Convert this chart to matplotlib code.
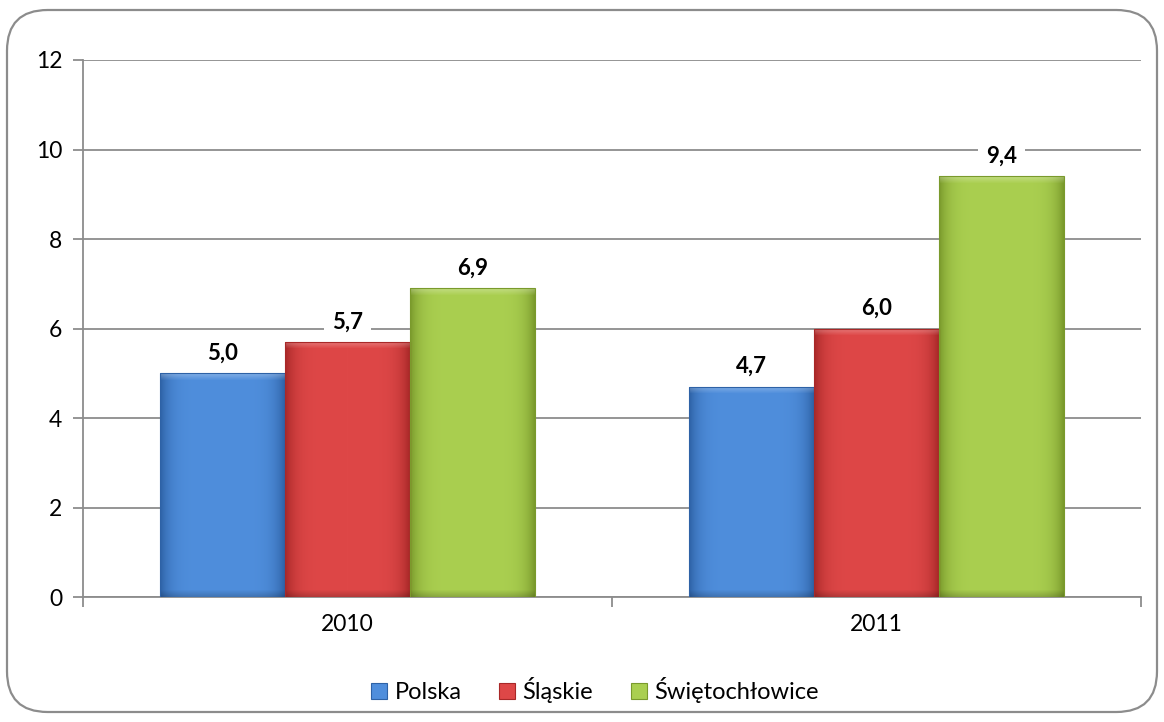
import numpy as np
import matplotlib.pyplot as plt
from matplotlib.patches import FancyBboxPatch, Rectangle
from matplotlib.colors import to_rgb

plt.rcParams['font.family'] = ['Lato', 'DejaVu Sans']

years = ['2010', '2011']
series = ['Polska', 'Śląskie', 'Świętochłowice']
values = {
    'Polska': [5.0, 4.7],
    'Śląskie': [5.7, 6.0],
    'Świętochłowice': [6.9, 9.4],
}
colors = {
    'Polska': ('#4F8EDC', '#2E62A6'),
    'Śląskie': ('#DE4747', '#A82828'),
    'Świętochłowice': ('#AACF50', '#7A9A2C'),
}


def shade(ax, patch, light, dark):
    # gradient fill: darker sides, soft light bevel on top, darker bottom
    x0, y0 = patch.get_x(), patch.get_y()
    w, h = patch.get_width(), patch.get_height()
    nrow = max(int(h * 45), 10)
    t = np.linspace(-1, 1, 125)
    f = np.clip(np.abs(t) ** 6, 0, 1)
    c1, c2 = np.array(to_rgb(light)), np.array(to_rgb(dark))
    row = c1 * (1 - f[:, None]) + c2 * f[:, None]
    img = np.repeat(row[None, :, :], nrow, axis=0)
    ramp = np.linspace(0, 0.28, 8)[:, None, None]
    img[-8:] = img[-8:] + (1 - img[-8:]) * ramp
    dim = np.linspace(0.82, 1.0, 8)[:, None, None]
    img[:8] = img[:8] * dim
    im = ax.imshow(img, extent=(x0, x0 + w, y0, y0 + h), aspect='auto',
                   origin='lower', zorder=3, interpolation='bilinear')
    im.set_clip_path(patch)
    patch.set_facecolor('none')
    patch.set_edgecolor(dark)
    patch.set_linewidth(0.8)
    patch.set_zorder(4)


fig = plt.figure(figsize=(11.64, 7.22), dpi=100)
ax = fig.add_axes([0.0713, 0.1731, 0.9089, 0.7438])

x = np.arange(len(years))
width = 0.236
handles = []
for i, s in enumerate(series):
    light, dark = colors[s]
    bars = ax.bar(x + (i - 1) * width, values[s], width, color=light,
                  zorder=3, label=s)
    for p in bars:
        shade(ax, p, light, dark)
    for xi, v in zip(x + (i - 1) * width, values[s]):
        ax.annotate(f'{v:.1f}'.replace('.', ','), (xi, v), xytext=(0, 7),
                    textcoords='offset points', ha='center', va='bottom',
                    fontsize=16, fontweight='bold', zorder=5,
                    bbox=dict(boxstyle='square,pad=0.35', fc='white', ec='none'))
    handles.append(Rectangle((0, 0), 1, 1, fc=light, ec=dark, lw=0.8))

ax.set_xlim(-0.5, 1.5)
ax.set_ylim(0, 12)
ax.set_yticks(range(0, 13, 2))
ax.set_xticks(x)
ax.set_xticklabels(years)
ax.set_xticks([-0.5, 0.5, 1.5], minor=True)
ax.tick_params(axis='x', which='major', length=0, pad=12, labelsize=16.5)
ax.tick_params(axis='x', which='minor', length=7, color='#8C8C8C', width=1.3)
ax.tick_params(axis='y', length=7, color='#8C8C8C', width=1.3, labelsize=16.5, pad=8)
ax.yaxis.grid(True, color='#8C8C8C', lw=1.3, zorder=0)
ax.set_axisbelow(True)
for sp in ['top', 'right']:
    ax.spines[sp].set_visible(False)
for sp in ['left', 'bottom']:
    ax.spines[sp].set_color('#8C8C8C')
    ax.spines[sp].set_linewidth(1.3)

fig.legend(handles, series, loc='center', bbox_to_anchor=(0.511, 0.044),
           ncol=3, frameon=False, fontsize=17, handlelength=0.68,
           handleheight=0.68, handletextpad=0.3, columnspacing=1.6)

border = FancyBboxPatch((7 / 1164, 10 / 722), 1150 / 1164, 702 / 722,
                        boxstyle='round,pad=0,rounding_size=0.035',
                        transform=fig.transFigure, fc='none', ec='#8C8C8C',
                        lw=1.6, mutation_aspect=1164 / 722)
fig.patches.append(border)

fig.savefig('out.png', dpi=100)
